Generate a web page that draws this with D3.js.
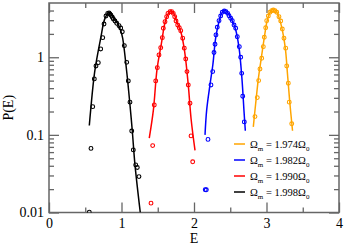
<!DOCTYPE html>
<html>
<head>
<meta charset="utf-8">
<script src="https://cdn.jsdelivr.net/npm/d3@7"></script>
<style>
  body { margin: 0; background: #fff; }
  svg { display: block; font-family: "Liberation Serif", "Times New Roman", serif; }
</style>
</head>
<body>
<div id="app"></div>
<script>
// data: [E, P(E)]
var labels = ['1.974', '1.982', '1.990', '1.998'];
var colors = ['#ffa500', '#0000ff', '#ff0000', '#000000'];

var blackPts = [[0.556,0.0101],[0.579,0.067],[0.603,0.231],[0.625,0.526],[0.648,0.773],[0.680,0.852],
  [0.713,1.28],[0.741,1.79],[0.759,2.68],[0.786,3.40],[0.810,3.68],[0.828,3.72],[0.841,3.61],[0.855,3.47],
  [0.873,3.27],[0.887,3.11],[0.910,2.93],[0.934,2.74],[0.966,2.55],[0.989,2.38],[1.011,2.13],[1.039,1.41],
  [1.072,0.86],[1.094,0.495],[1.117,0.264],[1.141,0.112],[1.163,0.064],[1.196,0.041],[1.218,0.038],[1.241,0.029]];
var blackFit = [[0.556,0.132],[0.575,0.21],[0.630,0.65],[0.713,1.76],[0.772,3.17],[0.832,3.79],[0.88,3.4],
  [0.94,2.8],[0.99,2.2],[1.016,1.76],[1.072,0.65],[1.117,0.243],[1.149,0.112],[1.186,0.041],[1.259,0.01]];

var redPts = [[1.407,0.0132],[1.430,0.0728],[1.452,0.243],[1.472,0.496],[1.494,0.735],[1.517,1.07],[1.541,1.33],
  [1.563,1.79],[1.577,2.36],[1.600,2.87],[1.623,3.33],[1.641,3.68],[1.669,3.86],[1.692,3.86],[1.714,3.68],
  [1.734,3.33],[1.752,2.93],[1.775,2.60],[1.797,2.40],[1.817,2.20],[1.844,1.76],[1.866,1.31],[1.886,0.95],
  [1.903,0.653],[1.921,0.44],[1.945,0.256],[1.959,0.097],[1.982,0.045]];
var redFit = [[1.383,0.091],[1.44,0.21],[1.49,0.7],[1.55,1.5],[1.60,2.8],[1.64,3.6],[1.68,3.95],[1.72,3.7],
  [1.76,2.9],[1.82,2.1],[1.87,1.2],[1.92,0.45],[1.96,0.16],[2.014,0.063]];

var bluePts = [[2.155,0.0196],[2.170,0.0196],[2.193,0.0875],[2.234,0.44],[2.258,0.653],[2.276,1.15],[2.290,1.47],
  [2.303,1.94],[2.321,2.43],[2.345,2.96],[2.368,3.40],[2.390,3.80],[2.418,3.94],[2.441,3.86],[2.465,3.68],
  [2.483,3.43],[2.506,3.18],[2.528,2.96],[2.552,2.60],[2.575,2.36],[2.597,1.84],[2.625,1.37],[2.644,1.0],
  [2.658,0.62],[2.672,0.315],[2.694,0.147]];
var blueFit = [[2.152,0.1],[2.175,0.21],[2.22,0.44],[2.26,0.8],[2.30,1.8],[2.35,3.0],[2.39,3.8],[2.43,4.0],
  [2.47,3.7],[2.52,3.05],[2.57,2.35],[2.62,1.35],[2.66,0.55],[2.69,0.2],[2.708,0.113]];

var orangePts = [[2.841,0.172],[2.873,0.302],[2.892,0.50],[2.910,0.707],[2.934,0.97],[2.956,1.37],[2.970,1.81],
  [2.989,2.40],[3.003,2.96],[3.025,3.40],[3.048,3.80],[3.072,3.98],[3.094,4.06],[3.117,3.98],[3.141,3.80],
  [3.172,3.33],[3.196,2.93],[3.218,2.31],[3.241,1.76],[3.265,1.31],[3.279,0.773],[3.301,0.463],[3.314,0.264],
  [3.348,0.139]];
var orangeFit = [[2.818,0.127],[2.85,0.25],[2.89,0.55],[2.93,1.0],[2.97,1.8],[3.01,3.0],[3.05,3.8],[3.095,4.15],
  [3.14,3.85],[3.18,3.1],[3.22,2.2],[3.26,1.3],[3.29,0.6],[3.32,0.27],[3.359,0.113]];

var xMajor = [0, 1, 2, 3, 4];
var xMinor = [0.5, 1.5, 2.5, 3.5];
var yMajor = [0.01, 0.1, 1];
var yMinor = [0.02,0.03,0.04,0.05,0.06,0.07,0.08,0.09,0.2,0.3,0.4,0.5,0.6,0.7,0.8,0.9,2,3,4];

var series = [
  {pts: orangePts, fit: orangeFit},
  {pts: bluePts, fit: blueFit},
  {pts: redPts, fit: redFit},
  {pts: blackPts, fit: blackFit}
];

var W = 345, H = 245;
var m = {left: 49, right: 6, top: 3, bottom: 32.5};
var w = W - m.left - m.right, h = H - m.top - m.bottom;

var x = d3.scaleLinear().domain([0, 4]).range([0, w]);
var y = d3.scaleLog().domain([0.01, 5]).range([h, 0]);

var svg = d3.select('#app').append('svg').attr('width', W).attr('height', H);
var g = svg.append('g').attr('transform', 'translate(' + m.left + ',' + m.top + ')');

g.append('clipPath').attr('id', 'clip').append('rect').attr('width', w).attr('height', h);

var axisColor = '#666';
var fmtY = function(d) { return d === 1 ? '1' : String(d); };

function styleAxis(sel) {
  sel.select('.domain').remove();
  sel.selectAll('line').attr('stroke', axisColor).attr('stroke-width', 1.3);
  sel.selectAll('text').attr('fill', '#000').style('font-size', '14px').style('font-family', 'Liberation Serif, serif');
}

// bottom
g.append('g').attr('transform', 'translate(0,' + h + ')')
  .call(d3.axisBottom(x).tickValues(xMajor).tickSize(-10).tickPadding(6).tickFormat(d3.format('d'))).call(styleAxis);
g.append('g').attr('transform', 'translate(0,' + h + ')')
  .call(d3.axisBottom(x).tickValues(xMinor).tickSize(-5).tickFormat('')).call(styleAxis);
// top
g.append('g').call(d3.axisTop(x).tickValues(xMajor).tickSize(-10).tickFormat('')).call(styleAxis);
g.append('g').call(d3.axisTop(x).tickValues(xMinor).tickSize(-5).tickFormat('')).call(styleAxis);
// left
g.append('g').call(d3.axisLeft(y).tickValues(yMajor).tickSize(-10).tickPadding(5).tickFormat(fmtY)).call(styleAxis);
g.append('g').call(d3.axisLeft(y).tickValues(yMinor).tickSize(-5).tickFormat('')).call(styleAxis);
// right
g.append('g').attr('transform', 'translate(' + w + ',0)')
  .call(d3.axisRight(y).tickValues(yMajor).tickSize(-10).tickFormat('')).call(styleAxis);
g.append('g').attr('transform', 'translate(' + w + ',0)')
  .call(d3.axisRight(y).tickValues(yMinor).tickSize(-5).tickFormat('')).call(styleAxis);

g.append('rect').attr('width', w).attr('height', h)
  .attr('fill', 'none').attr('stroke', axisColor).attr('stroke-width', 1.5);

var line = d3.line()
  .x(function(d) { return x(d[0]); })
  .y(function(d) { return y(d[1]); })
  .curve(d3.curveCatmullRom);

var plot = g.append('g').attr('clip-path', 'url(#clip)');

series.forEach(function(s, i) {
  plot.append('path').datum(s.fit).attr('d', line)
    .attr('fill', 'none').attr('stroke', colors[i]).attr('stroke-width', 1.5);
  plot.selectAll('.c' + i).data(s.pts).enter().append('circle')
    .attr('class', 'c' + i)
    .attr('cx', function(d) { return x(d[0]); })
    .attr('cy', function(d) { return y(d[1]); })
    .attr('r', 1.9)
    .attr('fill', 'none').attr('stroke', colors[i]).attr('stroke-width', 1.1);
});

// legend
var leg = g.append('g').attr('transform', 'translate(' + (234 - m.left) + ',' + (144 - m.top) + ')');
labels.forEach(function(lab, i) {
  var row = leg.append('g').attr('transform', 'translate(0,' + (i * 16) + ')');
  row.append('line').attr('x1', 0).attr('x2', 11).attr('y1', 0).attr('y2', 0)
    .attr('stroke', colors[i]).attr('stroke-width', 1.5);
  var t = row.append('text').attr('x', 16).attr('y', 3.5).style('font-size', '10.5px').attr('fill', '#000');
  t.append('tspan').text('\u03A9');
  t.append('tspan').attr('dy', 3).style('font-size', '7px').text('m');
  t.append('tspan').attr('dy', -3).text(' = ' + lab + '\u03A9');
  t.append('tspan').attr('dy', 3).style('font-size', '7px').text('0');
});

// axis titles
svg.append('text').attr('x', m.left + x(2)).attr('y', 243).attr('text-anchor', 'middle')
  .style('font-size', '14px').text('E');
svg.append('text').attr('transform', 'translate(13,' + (m.top + h / 2) + ') rotate(-90)')
  .attr('text-anchor', 'middle').style('font-size', '14px').text('P(E)');
</script>
</body>
</html>
